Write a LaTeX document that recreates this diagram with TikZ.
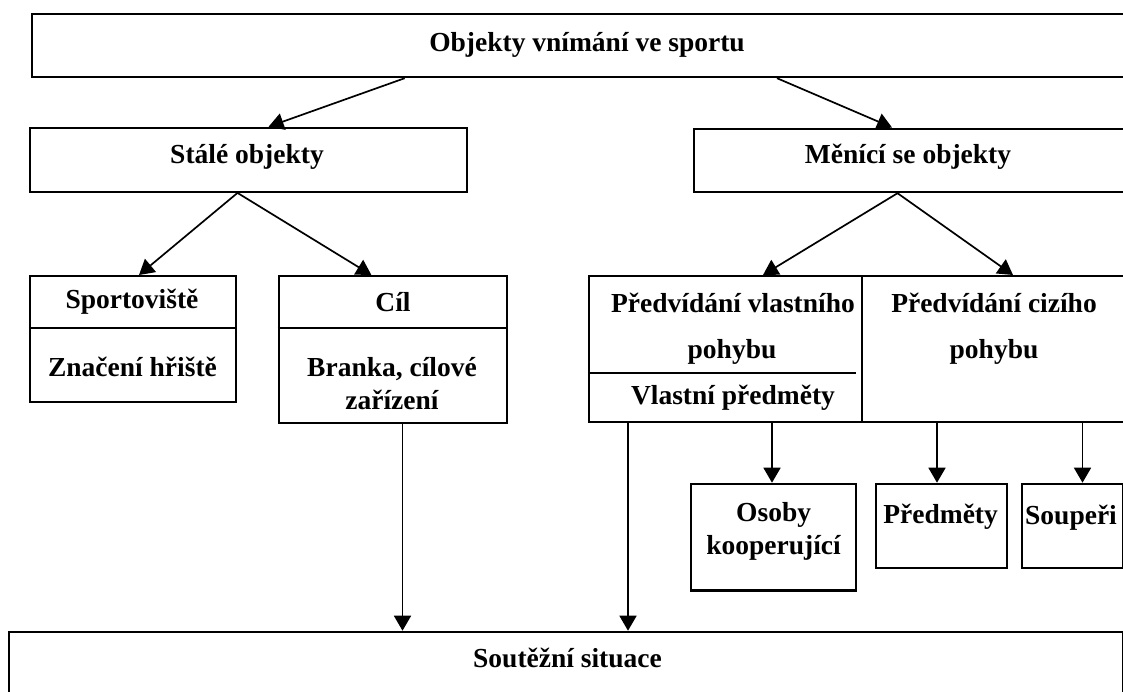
\documentclass[tikz,border=0pt]{standalone}
\usepackage{fontspec}
\setmainfont{Liberation Serif}
\usetikzlibrary{arrows.meta}
\begin{document}
\begin{tikzpicture}[x=1pt,y=-1pt,
  box/.style={draw,line width=2.2pt,inner sep=0pt,anchor=north west},
  divline/.style={line width=2pt},
  lbl/.style={inner sep=0pt,align=center,font=\fontsize{27.5pt}{33pt}\selectfont\bfseries},
  arr/.style={line width=1.7pt,-{Triangle[length=15pt,width=17pt]}}]
\useasboundingbox (0,0) rectangle (1123,691);
\clip (0,0) rectangle (1123,691);
% boxes
\node[box,minimum width=1120pt,minimum height=63.3pt] (top) at (31,12.7) {};
\node[box,minimum width=436.6pt,minimum height=64pt] (stale) at (29,126.7) {};
\node[box,minimum width=460pt,minimum height=63.5pt] (menici) at (693,127.5) {};
\node[box,minimum width=206.4pt,minimum height=125.7pt] (sport) at (28.8,275) {};
\node[box,minimum width=228.5pt,minimum height=146.7pt] (cil) at (277.5,275) {};
\node[box,minimum width=570pt,minimum height=145.7pt] (pred) at (588,275) {};
\node[box,minimum width=165pt,minimum height=106.6pt] (osoby) at (690,482.7) {};
\node[box,minimum width=131pt,minimum height=84.5pt] (predm) at (874.5,482.7) {};
\node[box,minimum width=101.5pt,minimum height=84.5pt] (soup) at (1020.5,482.7) {};
\node[box,minimum width=1113.5pt,minimum height=100pt] (soutez) at (8,630.7) {};
% dividers
\draw[divline] ([yshift=-53pt]sport.north west) -- ([yshift=-53pt]sport.north east);
\draw[divline] ([yshift=-53pt]cil.north west) -- ([yshift=-53pt]cil.north east);
\draw[divline] ([xshift=273.6pt]pred.north west) -- ([xshift=273.6pt]pred.south west);
\draw[divline] ([yshift=-97.7pt]pred.north west) -- ([xshift=268pt,yshift=-97.7pt]pred.north west);
% texts
\node[lbl] (ttop) at (587,45) {Objekty vnímání ve sportu};
\node[lbl] (tstale) at (247,157) {Stálé objekty};
\node[lbl] (tmenici) at (908,157) {Měnící se objekty};
\node[lbl] (tsport) at (132,302) {Sportoviště};
\node[lbl] (tznac) at (132.5,367) {Značení hřiště};
\node[lbl] (tcil) at (393,302) {Cíl};
\node[lbl] (tbranka) at (392,383.5) {Branka, cílové\\zařízení};
\node[lbl] (tpv1) at (733,303) {Předvídání vlastního};
\node[lbl] (tpv2) at (732,352) {pohybu};
\node[lbl] (tvp) at (733,398) {Vlastní předměty};
\node[lbl] (tpc1) at (994,303) {Předvídání cizího};
\node[lbl] (tpc2) at (994,352) {pohybu};
\node[lbl] (tosoby) at (773.6,531.5) {Osoby\\kooperující};
\node[lbl] (tpredm) at (940.6,517) {Předměty};
\node[lbl] (tsoup) at (1071,518) {Soupeři};
\node[lbl] (tsoutez) at (567.5,658) {Soutěžní situace};
% arrows
\draw[arr] ([xshift=373.7pt]top.south west) -- ([xshift=239.6pt]stale.north west);
\draw[arr] ([xshift=746pt]top.south west) -- ([xshift=199pt]menici.north west);
\draw[arr] ([xshift=208.5pt]stale.south west) -- ([xshift=110.2pt]sport.north west);
\draw[arr] ([xshift=208.5pt]stale.south west) -- ([xshift=93.9pt]cil.north west);
\draw[arr] ([xshift=204.5pt]menici.south west) -- ([xshift=175pt]pred.north west);
\draw[arr] ([xshift=204.5pt]menici.south west) -- ([xshift=425pt]pred.north west);
\draw[arr] ([xshift=125pt]cil.south west) -- ([xshift=394.5pt]soutez.north west);
\draw[arr] ([xshift=40pt]pred.south west) -- ([xshift=620pt]soutez.north west);
\draw[arr] ([xshift=184pt]pred.south west) -- ([xshift=82pt]osoby.north west);
\draw[arr] ([xshift=349pt]pred.south west) -- ([xshift=62.5pt]predm.north west);
\draw[arr] ([xshift=494.5pt]pred.south west) -- ([xshift=62pt]soup.north west);
\end{tikzpicture}
\end{document}
